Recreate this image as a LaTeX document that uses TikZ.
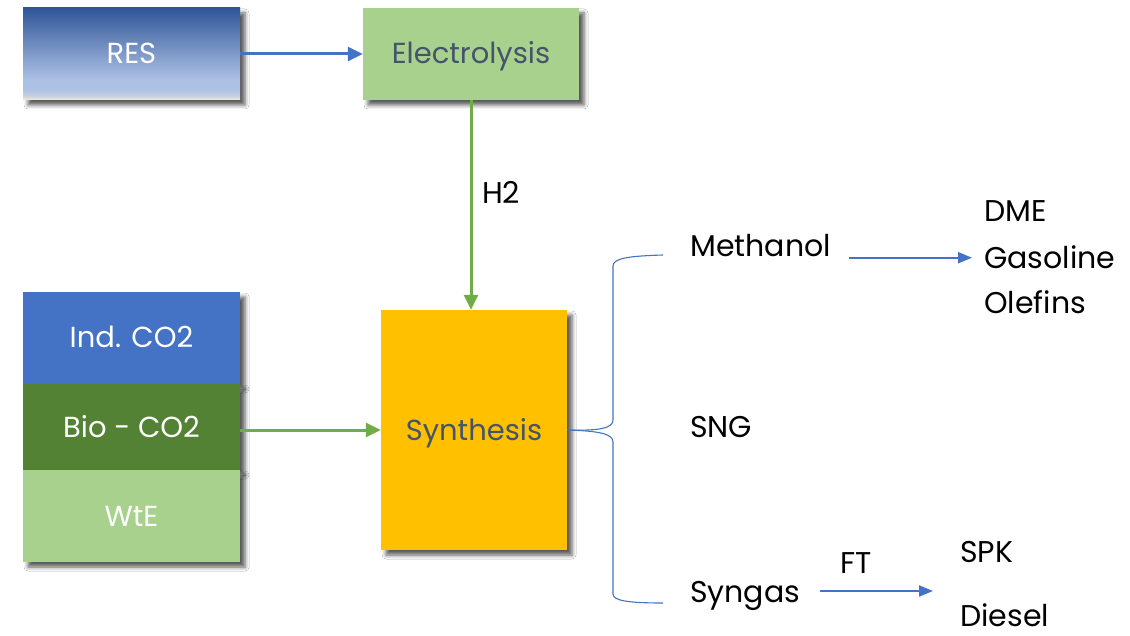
\documentclass[tikz,border=0pt]{standalone}
\usepackage{fontspec}
\setmainfont{Poppins}
\usetikzlibrary{arrows.meta,shadows.blur,calc}
\definecolor{resdark}{HTML}{2F5597}
\definecolor{reslight}{HTML}{ADC1E5}
\definecolor{resbeige}{HTML}{F4ECD8}
\definecolor{lgreen}{HTML}{A9D18E}
\definecolor{dgreen}{HTML}{548235}
\definecolor{mblue}{HTML}{4472C4}
\definecolor{gold}{HTML}{FFC000}
\definecolor{agreen}{HTML}{70AD47}
\definecolor{slate}{HTML}{44546A}
\pgfdeclareverticalshading{resgrad}{100bp}{color(0bp)=(resbeige); color(25bp)=(resbeige); color(27.5bp)=(reslight!70!resbeige); color(31bp)=(reslight); color(36bp)=(reslight); color(75bp)=(resdark); color(100bp)=(resdark)}
\begin{document}
\begin{tikzpicture}[x=1pt,y=-1pt,
  box/.style={draw=none, inner sep=0pt, font=\fontsize{29}{32}\selectfont,
    text height=20pt, text depth=0pt,
    blur shadow={shadow xshift=5pt, shadow yshift=-5pt, shadow blur radius=4pt, shadow opacity=65}},
  lbl/.style={inner sep=0pt, anchor=base west, font=\fontsize{30}{33}\selectfont, text=black},
  barrow/.style={draw=mblue, line width=3pt, -{Triangle[length=15pt,width=14pt]}},
  garrow/.style={draw=agreen, line width=3pt, -{Triangle[length=15pt,width=14pt]}},
  tarrow/.style={draw=mblue, line width=2pt, -{Triangle[length=14pt,width=11pt]}},
  brace/.style={draw=mblue, line width=1.1pt}
]
\useasboundingbox (0,0) rectangle (1130,636);
\fill[white] (0,0) rectangle (1130,636);

\node[box, shading=resgrad, minimum width=217pt, minimum height=92pt, text=white] (res) at (131.5,54) {RES};
\node[box, fill=lgreen, minimum width=216pt, minimum height=92pt, text=slate] (elec) at (471,54) {Electrolysis};

\node[box, fill=mblue, minimum width=217pt, minimum height=92pt, text=white] (ind) at (131.5,338) {Ind. CO2};
\node[box, fill=dgreen, minimum width=217pt, minimum height=86pt, text=white] (bio) at (131.5,427) {Bio - CO2};
\node[box, fill=lgreen, minimum width=217pt, minimum height=92pt, text=white] (wte) at (131.5,516) {WtE};

\node[box, fill=gold, minimum width=186pt, minimum height=240pt, text=slate] (syn) at (474,430) {Synthesis};

\draw[barrow] (res.east) -- (elec.west);
\draw[garrow] (elec.south) -- (elec.south |- syn.north);
\node[lbl] (h2) at (482,204) {H2};
\draw[garrow] (syn.west -| bio.east) -- (syn.west);

% right side labels
\node[lbl] (meth) at (690,257) {Methanol};
\node[lbl] (sng) at (690,437) {SNG};
\node[lbl] (sgas) at (690,602) {Syngas};
\node[lbl] (dme) at (984,222) {DME};
\node[lbl] (gas) at (984,269) {Gasoline};
\node[lbl] (ole) at (984,314) {Olefins};
\node[lbl] (ft) at (840,573) {FT};
\node[lbl] (spk) at (960,562) {SPK};
\node[lbl] (dsl) at (960,626) {Diesel};

% brace
\coordinate (btop) at (663,255);
\coordinate (bbot) at (663,603);
\draw[brace] (syn.east) .. controls (600,431) and (613,428) .. (613,420) -- (613,266)
  .. controls (613,258) and (630,256) .. (btop);
\draw[brace] (syn.east) .. controls (600,431) and (613,434) .. (613,442) -- (613,594)
  .. controls (613,601) and (630,603) .. (bbot);

\draw[tarrow] ($(meth.east |- gas.west)+(18,0)$) -- ($(gas.west)+(-12,0)$);
\coordinate (ftend) at (933,591);
\draw[tarrow] ($(sgas.east |- ftend)+(20,0)$) -- (ftend);
\end{tikzpicture}
\end{document}
